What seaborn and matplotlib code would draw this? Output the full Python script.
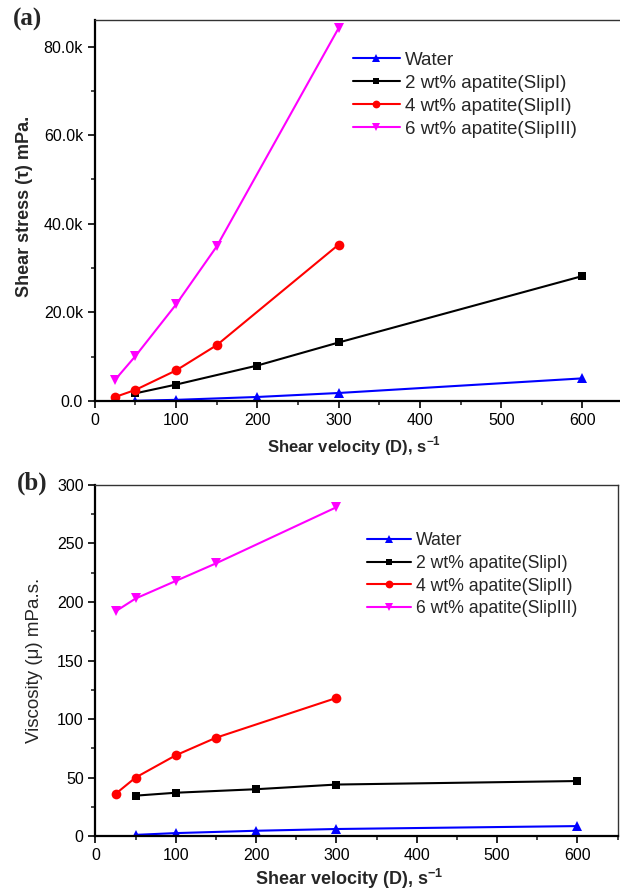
import matplotlib
matplotlib.use("Agg")
import matplotlib.pyplot as plt
import seaborn as sns
import pandas as pd
from matplotlib.ticker import MultipleLocator, FuncFormatter

sns.set_style("ticks")
plt.rcParams['font.family'] = ['Liberation Sans', 'DejaVu Sans']

series_names = ["Water", "2 wt% apatite(SlipI)", "4 wt% apatite(SlipII)", "6 wt% apatite(SlipIII)"]
colors = ["#0000ff", "#000000", "#ff0000", "#ff00ff"]
markers = ["^", "s", "o", "v"]

water_x = [50, 100, 200, 300, 600]
slip1_x = [50, 100, 200, 300, 600]
slip2_x = [25, 50, 100, 150, 300]
slip3_x = [25, 50, 100, 150, 300]

water_stress = [50, 250, 900, 1800, 5100]
slip1_stress = [1725, 3700, 8000, 13200, 28200]
slip2_stress = [900, 2500, 6900, 12600, 35300]
slip3_stress = [4800, 10150, 21800, 34900, 84200]

water_visc = [1, 2.5, 4.5, 6, 8.5]
slip1_visc = [34.5, 37, 40, 44, 47]
slip2_visc = [36, 50, 69, 84, 118]
slip3_visc = [192, 203, 218, 233, 281]

xs = [water_x, slip1_x, slip2_x, slip3_x]
stress = [water_stress, slip1_stress, slip2_stress, slip3_stress]
visc = [water_visc, slip1_visc, slip2_visc, slip3_visc]

def make_df(ys):
    rows = []
    for name, x, y in zip(series_names, xs, ys):
        for a, b in zip(x, y):
            rows.append({"D": a, "val": b, "series": name})
    return pd.DataFrame(rows)

fig = plt.figure(figsize=(6.2, 8.93), dpi=100)
ax1 = fig.add_axes([0.153, 0.551, 0.852, 0.4266])
ax2 = fig.add_axes([0.154, 0.0638, 0.842, 0.3931])

pal = dict(zip(series_names, colors))
mk = dict(zip(series_names, markers))

for ax, ys in [(ax1, stress), (ax2, visc)]:
    df = make_df(ys)
    sns.lineplot(data=df, x="D", y="val", hue="series", style="series",
                 palette=pal, markers=mk, dashes=False, markersize=7,
                 markeredgewidth=0, linewidth=1.5, ax=ax, legend=True, sort=True)
    for line in ax.get_lines():
        if line.get_marker() == "s":
            line.set_markersize(6)
    ax.set_xlim(0, 650)
    ax.xaxis.set_major_locator(MultipleLocator(100))
    ax.xaxis.set_minor_locator(MultipleLocator(50))
    ax.tick_params(axis='both', which='major', direction='out', length=5, width=1.2,
                   labelsize=11.5, top=False, right=False, colors='black')
    ax.tick_params(axis='both', which='minor', direction='out', length=3, width=1.2,
                   top=False, right=False)
    for s in ax.spines.values():
        s.set_linewidth(1.0)
        s.set_color('#333333')
    ax.spines['left'].set_linewidth(1.6)
    ax.spines['bottom'].set_linewidth(1.6)
    ax.spines['left'].set_color('black')
    ax.spines['bottom'].set_color('black')
    ax.grid(False)

ax1.set_xlabel("Shear velocity (D), s$^{\\mathregular{-1}}$", fontsize=12, fontweight='bold')
ax2.set_xlabel("Shear velocity (D), s$^{\\mathregular{-1}}$", fontsize=13, fontweight='bold')

ax1.set_ylim(0, 86000)
ax1.yaxis.set_major_locator(MultipleLocator(20000))
ax1.yaxis.set_minor_locator(MultipleLocator(10000))
ax1.yaxis.set_major_formatter(FuncFormatter(lambda v, p: f"{v/1000:.1f}k" if v != 0 else "0.0"))
ax1.set_ylabel("Shear stress (\u03c4) mPa.", fontsize=13, fontweight='bold')
ax1.spines['right'].set_visible(False)

ax2.set_ylim(0, 300)
ax2.yaxis.set_major_locator(MultipleLocator(50))
ax2.yaxis.set_minor_locator(MultipleLocator(25))
ax2.set_ylabel("Viscosity (\u03bc) mPa.s.", fontsize=13.5)

for ax, anchor, fs, sp in [(ax1, (0.488, 0.917), 13.5, 0.31), (ax2, (0.52, 0.865), 12.7, 0.32)]:
    h, l = ax.get_legend_handles_labels()
    ax.legend(h, l, loc='upper left', bbox_to_anchor=anchor, frameon=False,
              fontsize=fs, handlelength=2.5, handletextpad=0.3, labelspacing=sp,
              borderaxespad=0, borderpad=0, markerscale=0.8)

fig.text(0.045, 0.978, "(a)", fontsize=18, fontweight='bold', family='Liberation Serif',
         ha='center', va='center')
fig.text(0.052, 0.459, "(b)", fontsize=18, fontweight='bold', family='Liberation Serif',
         ha='center', va='center')

ax1.yaxis.set_label_coords(-0.118, 0.51)
ax2.yaxis.set_label_coords(-0.10, 0.5)
ax1.xaxis.set_label_coords(0.49, -0.087)
ax2.xaxis.set_label_coords(0.485, -0.088)

fig.savefig("out.png", dpi=100)
